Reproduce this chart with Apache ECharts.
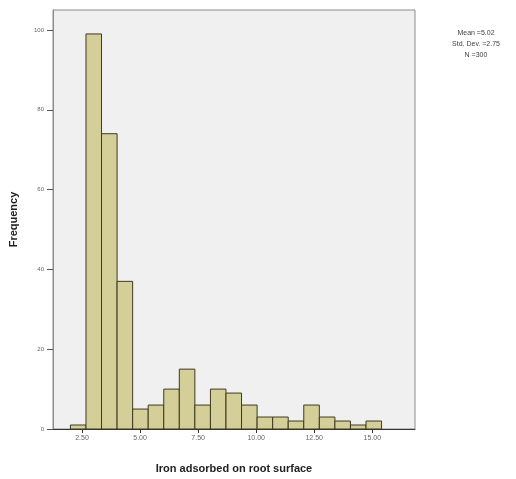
<!DOCTYPE html>
<html><head><meta charset="utf-8">
<script src="https://cdn.jsdelivr.net/npm/echarts@6/dist/echarts.min.js"></script>
<style>html,body{margin:0;padding:0;background:#fff}#c{width:516px;height:479px}</style>
</head><body><div id="c"></div>
<script>
var binStart = 2.0;
var binWidth = 0.67;
var counts = [1, 99, 74, 37, 5, 6, 10, 15, 6, 10, 9, 6, 3, 3, 2, 6, 3, 2, 1, 2];
var xTicks = [2.5, 5, 7.5, 10, 12.5, 15];
var yTicks = [0, 20, 40, 60, 80, 100];
var statsLines = ['Mean =5.02', 'Std. Dev. =2.75', 'N =300'];

var data = counts.map(function (c, i) {
  return [binStart + i * binWidth, binStart + (i + 1) * binWidth, c];
});

var chart = echarts.init(document.getElementById('c'), null, {renderer: 'canvas'});
chart.setOption({
  animation: false,
  backgroundColor: '#ffffff',
  grid: {left: 50, top: 10, right: 101, bottom: 50, show: true, backgroundColor: '#f0f0f0', borderColor: '#8c8c8c', borderWidth: 1},
  graphic: [{
    type: 'text', x: 476, y: 28,
    style: {text: statsLines.join('\n'), fontSize: 7, lineHeight: 11, fill: '#444', align: 'center', verticalAlign: 'top', fontFamily: 'Arial, Liberation Sans, sans-serif'}
  }],
  xAxis: {
    type: 'value', min: 1.25, max: 16.84,
    splitLine: {show: false},
    axisLine: {show: true, onZero: false, lineStyle: {color: '#333', width: 1}},
    axisTick: {show: true, customValues: xTicks, length: 4, lineStyle: {color: '#333'}},
    axisLabel: {customValues: xTicks, formatter: function (v) { return v.toFixed(2); }, fontSize: 7, color: '#666', margin: 6, fontFamily: 'Arial, Liberation Sans, sans-serif'},
    name: 'Iron adsorbed on root surface', nameLocation: 'middle', nameGap: 34,
    nameTextStyle: {fontSize: 11, fontWeight: 'bold', color: '#222', fontFamily: 'Arial, Liberation Sans, sans-serif'}
  },
  yAxis: {
    type: 'value', min: 0, max: 105,
    splitLine: {show: false},
    axisLine: {show: true, lineStyle: {color: '#8c8c8c'}},
    axisTick: {show: true, customValues: yTicks, length: 6, lineStyle: {color: '#555'}},
    axisLabel: {customValues: yTicks, fontSize: 6, color: '#666', margin: 9, fontFamily: 'Arial, Liberation Sans, sans-serif'},
    name: 'Frequency', nameLocation: 'middle', nameGap: 34,
    nameTextStyle: {fontSize: 11, fontWeight: 'bold', color: '#222', fontFamily: 'Arial, Liberation Sans, sans-serif'}
  },
  series: [{
    type: 'custom',
    data: data,
    encode: {x: [0, 1], y: 2},
    renderItem: function (params, api) {
      var p0 = api.coord([api.value(0), 0]);
      var p1 = api.coord([api.value(1), api.value(2)]);
      return {
        type: 'rect',
        shape: {x: p0[0], y: p1[1], width: p1[0] - p0[0], height: p0[1] - p1[1]},
        style: {fill: '#d4cf98', stroke: '#3d3a1e', lineWidth: 1}
      };
    }
  }]
});
</script></body></html>
